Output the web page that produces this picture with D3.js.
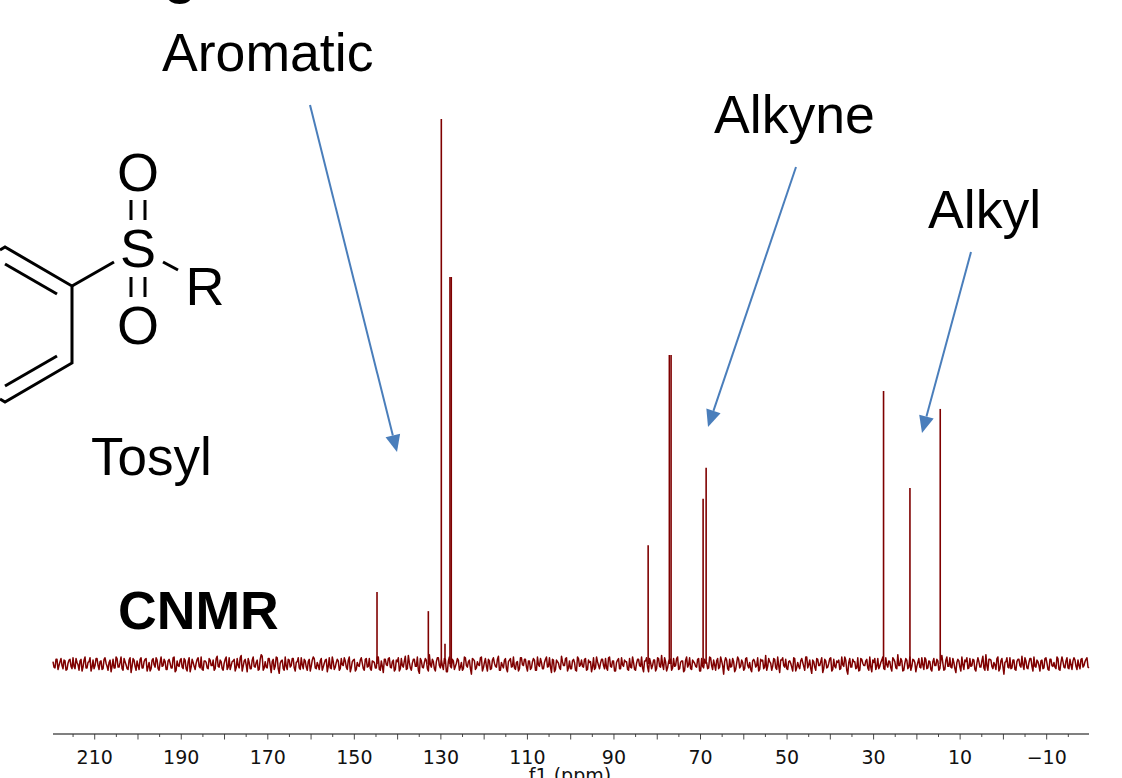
<!DOCTYPE html>
<html><head><meta charset="utf-8">
<script src="https://cdn.jsdelivr.net/npm/d3@7"></script>
<style>html,body{margin:0;padding:0;background:#fff;overflow:hidden}svg{display:block}</style>
</head><body><svg id="c" width="1122" height="778"></svg>
<script>
// Peak positions (ppm) and heights (% of tallest peak)
const peakPpm = [144.76,132.9,129.9,129.05,127.9,127.6,82.1,77.2,76.8,69.4,68.7,27.7,21.6,14.6];
const peakHeight = [13.2,9.7,100,3.7,71,71,21.8,56.7,56.7,30.3,36,50.1,32.3,46.8];
const axisDomain = [219.64,-19.78];
const labelTicks = [210,190,170,150,130,110,90,70,50,30,10,-10];
const regionLabels = ["Aromatic","Alkyne","Alkyl"];
// Baseline noise, in sevenths of a height unit
const noiseEven = [
3,-5,6,-2,7,-6,4,-7,5,-3,8,-6,2,-8,6,-4,9,-5,3,-9,5,-2,7,-7,4,-6,8,-3,2,-10,6,-5,7,-4,9,-8,3,-6,5,-11,
7,-3,4,-7,8,-5,6,-9,2,-6,7,-4,5,-8,9,-2,3,-7,6,-5,8,-10,4,-3,7,-6,5,-9,8,-4,2,-7,6,-3,9,-8,4,-5,7,-2,
5,-6,10,-4,3,-8,6,-7,8,-2,4,-9,7,-5,11,-3,6,-10,2,-6,9,-4,5,-7,12,-8,3,-5,7,-11,6,-3,8,-12,4,-6,9,-7,
5,-2,7,-9,3,-5,8,-6,4,-8,6,-3,9,-5,2,-7,7,-4,5,-10,8,-6,3,-4,6,-8,7,-2,4,-7,9,-5,5,-9,2,-3,8,-6,6,-4,
7,-8,3,-5,9,-7,4,-11,6,-2,8,-5,5,-7,3,-9,7,-4,10,-6,2,-8,6,-3,9,-12,4,-5,7,-6,12,-4,3,-9,8,-2,5,-7,6,-10,
9,-5,4,-3,7,-8,2,-6,8,-4,5,-13,6,-7,3,-2,9,-5,7,-9,4,-6,8,-3,6,-8,2,-5,7,-10,5,-4,9,-7,3,-6,8,-2,6,-9,
4,-5,7,-8,9,-3,2,-6,6,-4,8,-11,5,-7,3,-5,10,-2,7,-9,4,-6,6,-8,9,-3,5,-4,7,-7,2,-10,8,-5,3,-6,6,-2,7,-8,
9,-4,4,-9,5,-6,8,-3,3,-7,7,-5,2,-8,6,-2,9,-10,4,-4,7,-6,5,-9,8,-3,11,-7,3,-5,6,-8,7,-2,9,-6,4,-10,5,-4,
8,-7,3,-3,6,-9,7,-5,2,-6,9,-2,5,-8,7,-4,4,-13,8,-6,6,-3,3,-7,9,-5,5,-8,7,-2,2,-10,6,-4,8,-7,4,-6,11,-3,
3,-8,7,-5,9,-11,5,-2,6,-7,4,-4,8,-9,2,-6,7,-3,9,-5,5,-12,3,-8,6,-2,8,-6,4,-4,7,-9,6,-5,2,-7,9,-3,5,-13,
7,-4,3,-6,8,-8,6,-2,4,-5,9,-10,2,-7,7,-3,5,-6,8,-4,3,-9,6,-5,12,-2,4,-8,7,-6,9,-3,5,-10,2,-4,8,-7,6,-5,
3,-9,7,-2,4,-6,11,-8,5,-3,8,-5,2,-11,6,-4,9,-7,3,-6,7,-2,5,-9,8,-4,4,-5,12,-8,6,-3,2,-7,9,-6,7,-13,3,-4,
8,-5,5,-8,6,-2,10,-7,4,-6,7,-3,9,-4,3,-9,5,-5,8,-7,6,-2,2,-6,7,-8,9,-4,4,-5,6,-7,8,-3,5,-6,7,-2,6,-4
];
const noiseOdd = [
-4,6,-7,3,-2,5,-8,1,6,-6,-3,7,-1,4,-9,5,-5,2,8,-4,-6,7,-2,3,-7,6,1,-8,5,-3,-5,9,-4,2,-6,7,-1,-7,8,-3,
5,-8,-2,6,-5,3,7,-4,-9,5,-1,8,-6,2,-3,6,-7,4,1,-5,9,-8,-2,5,-4,7,-6,3,-10,6,-3,1,8,-5,-7,4,2,-6,5,-2,
-8,7,-3,5,-6,1,9,-4,-7,3,6,-5,-2,8,-9,4,-1,7,-6,5,-3,2,-8,6,10,-5,-4,7,-2,3,-7,9,-6,1,5,-8,-3,6,-4,7,
-5,2,8,-7,-1,6,-4,3,-9,5,7,-6,-2,4,-8,1,6,-3,-5,9,-7,2,4,-6,-1,8,-4,5,-10,3,6,-7,-2,5,1,-8,7,-3,-6,4,
2,-5,9,-8,-3,6,-1,7,-4,3,-9,5,8,-6,-2,4,-7,11,-5,1,6,-3,-8,7,-4,2,5,-9,-1,6,-6,3,8,-5,-2,7,-10,4,-3,6,
-7,1,5,-4,-8,9,-2,3,-6,7,4,-5,-1,8,-9,2,-3,6,-7,5,1,-4,10,-8,-2,5,-6,3,7,-3,-5,2,-9,8,-1,6,-4,4,-7,3,
5,-8,-1,7,-6,2,9,-3,-4,6,-10,5,1,-7,3,-2,8,-5,-6,4,2,-9,7,-1,-3,6,-8,5,3,-4,-7,9,-2,1,6,-6,-5,8,-3,4,
-9,2,7,-6,-1,5,3,-8,-4,9,-7,1,6,-3,-5,4,8,-10,2,-2,5,-6,7,-4,-1,8,-9,3,6,-5,-3,7,-7,2,4,-8,9,-1,-6,5,
1,-4,7,-9,-3,6,2,-5,8,-7,-1,4,-6,9,-2,3,5,-8,-4,7,-10,1,6,-3,2,-6,8,-5,-7,4,3,-2,-9,6,5,-4,-8,7,1,-3,
6,-7,-2,5,8,-4,-6,3,1,-9,7,-5,-3,4,2,-8,9,-1,-6,5,-4,7,-2,3,-11,6,-5,1,8,-7,-3,4,5,-6,-1,9,-8,2,-4,6,
3,-5,-9,7,1,-2,6,-8,-4,5,7,-3,-6,2,9,-7,-1,4,-5,8,3,-6,-2,7,-9,1,5,-4,-8,6,2,-3,7,-5,-1,8,-6,4,-7,3,
-2,6,-8,5,1,-7,9,-3,-4,7,-6,2,4,-9,-1,5,8,-5,-3,6,-7,1,3,-4,10,-8,-2,6,5,-6,-1,7,-9,4,-3,2,8,-5,-6,5,
-7,3,6,-4,-1,8,-5,2,7,-9,-3,5,-2,4,-6,7,1,-8,6,-3,-4,9,-7,2,3,-5,8,-6,-1,4,5,-7,-2,6,-4,3,8,-5,-3,6
];
const noise = noiseEven.flatMap((d,i)=>[d,noiseOdd[i]]);

const width = 1122, height = 778;
const svg = d3.select("#c");
const x = d3.scaleLinear().domain(axisDomain).range([53,1089]);
const y = d3.scaleLinear().domain([0,100]).range([664,119]);
const traceColor = "#7f0000", arrowColor = "#4a7ebb";

// noise trace
const line = d3.line()
  .x((d,i)=>x(axisDomain[0]+(axisDomain[1]-axisDomain[0])*i/(noise.length-1)))
  .y(d=>y(d/7));
svg.append("path").attr("d",line(noise)).attr("fill","none")
  .attr("stroke",traceColor).attr("stroke-width",1.5).attr("stroke-linejoin","round");

// peaks
svg.append("g").selectAll("line").data(peakPpm).join("line")
  .attr("x1",d=>x(d)).attr("x2",d=>x(d))
  .attr("y1",y(0)).attr("y2",(d,i)=>y(peakHeight[i]))
  .attr("stroke",traceColor).attr("stroke-width",1.6);

// axis
const allTicks = d3.range(-15,220,5);
const ax = svg.append("g").attr("transform","translate(0,734)");
ax.append("line").attr("x1",53).attr("x2",1089).attr("stroke","#808080").attr("stroke-width",2);
ax.selectAll("line.t").data(allTicks).join("line").attr("class","t")
  .attr("x1",d=>x(d)).attr("x2",d=>x(d)).attr("y1",0)
  .attr("y2",d=>d%10===0?5.5:3).attr("stroke","#333").attr("stroke-width",0.9);
ax.selectAll("text").data(labelTicks).join("text")
  .attr("x",d=>x(d)).attr("y",30).attr("text-anchor","middle")
  .attr("font-family","'DejaVu Sans'").attr("font-size",19).attr("fill","#111")
  .text(d=>d<0?"\u2212"+(-d):d);
svg.append("text").attr("x",570).attr("y",782).attr("text-anchor","middle")
  .attr("font-family","'DejaVu Sans'").attr("font-size",19).attr("fill","#111").text("f1 (ppm)");

// annotations
const sans = "'Liberation Sans'";
function label(t,px,py,size,weight){
  svg.append("text").attr("x",px).attr("y",py).attr("font-family",sans)
    .attr("font-size",size).attr("font-weight",weight||"normal").attr("fill","#000").text(t);
}
label(regionLabels[0],162,71,53.6);
label(regionLabels[1],714,133,53.6);
label(regionLabels[2],928,228,53.6);
label("Tosyl",91,475,53);
label("CNMR",118,629,53.6,"bold");
label("g",164,-7,53,"bold");

function arrow(x1,y1,x2,y2){
  const a=Math.atan2(y2-y1,x2-x1), L=17, W=7.5;
  const bx=x2-L*Math.cos(a), by=y2-L*Math.sin(a);
  svg.append("line").attr("x1",x1).attr("y1",y1).attr("x2",bx).attr("y2",by)
    .attr("stroke",arrowColor).attr("stroke-width",2);
  svg.append("path").attr("fill",arrowColor)
    .attr("d",`M${x2},${y2}L${bx-W*Math.sin(a)},${by+W*Math.cos(a)}L${bx+W*Math.sin(a)},${by-W*Math.cos(a)}Z`);
}
arrow(310,105,397,452);
arrow(796,167,708,427);
arrow(971,252,922,433);

// tosyl structure
const bond = d=>svg.append("path").attr("d",d).attr("fill","none").attr("stroke","#000")
  .attr("stroke-width",3).attr("stroke-linejoin","miter");
bond("M0 250L5 247L72 286L72 363L5 402L0 399");
bond("M72 286L114 262");
bond("M57 294L5 264");
bond("M57 356L5 386");
bond("M131 200V220M145 200V220");
bond("M131 277V297M145 277V297");
bond("M163 262L178 270");
const atom=(t,px,py)=>svg.append("text").attr("x",px).attr("y",py).attr("text-anchor","middle")
  .attr("font-family",sans).attr("font-size",54).attr("fill","#000").text(t);
atom("O",138,191);
atom("S",138,267);
atom("O",138,344);
atom("R",205,305);
</script></body></html>
